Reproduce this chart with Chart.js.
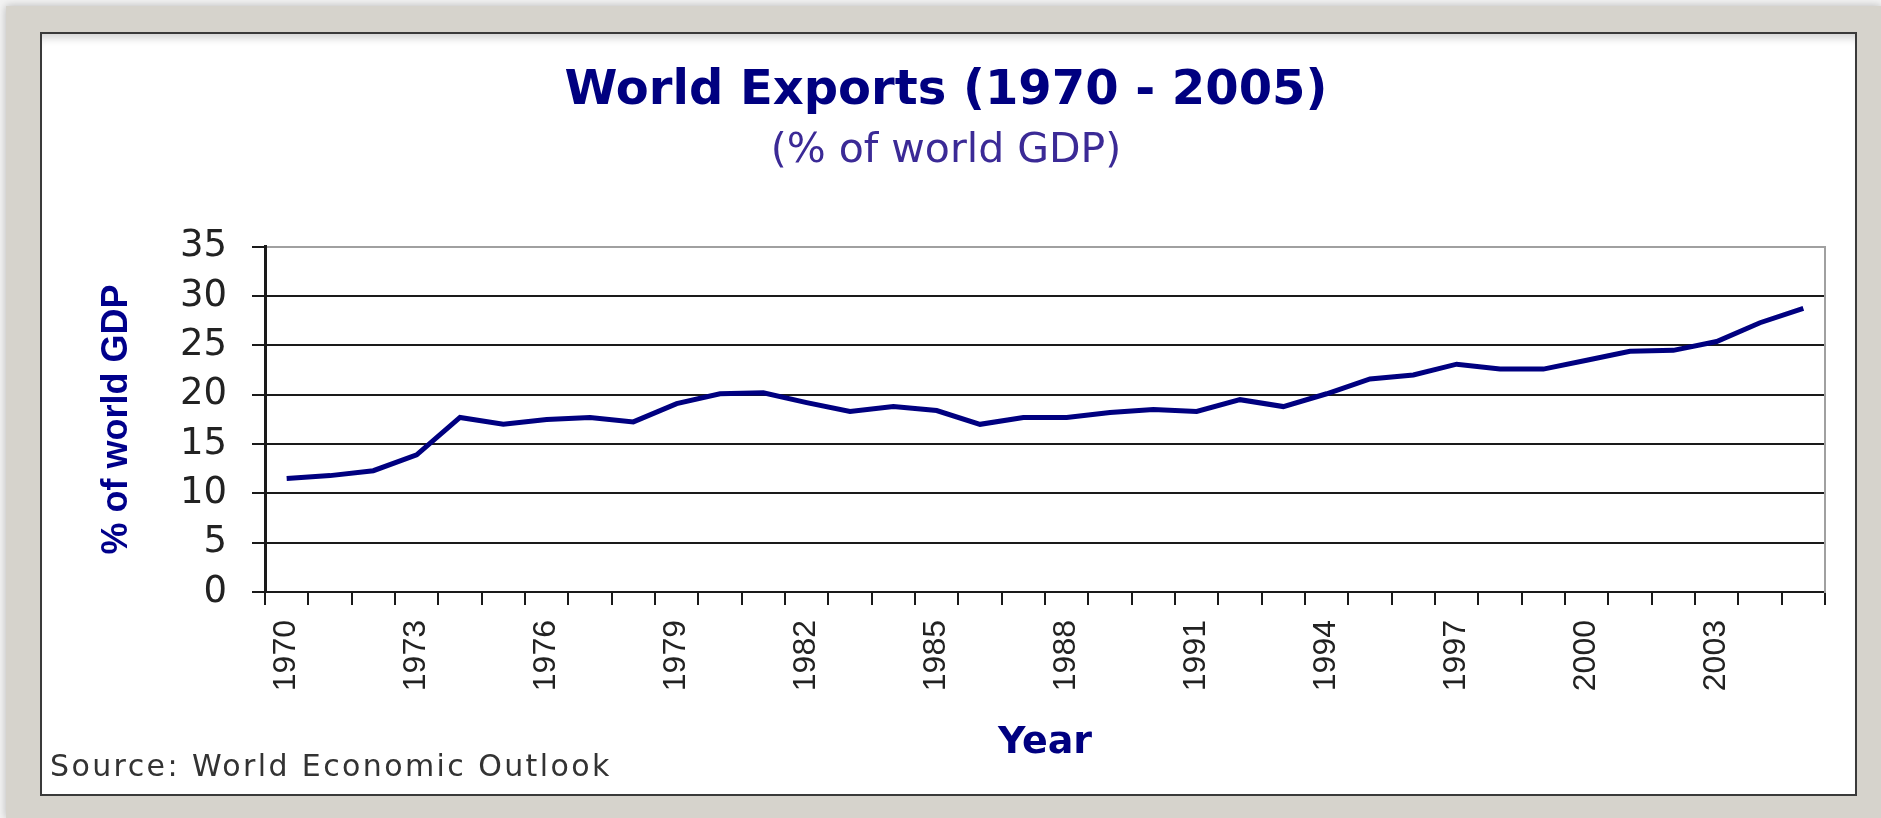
<!DOCTYPE html>
<html>
<head>
<meta charset="utf-8">
<script src="https://cdn.jsdelivr.net/npm/chart.js@4.4.1/dist/chart.umd.min.js"></script>
<style>
  html, body { margin: 0; padding: 0; }
  body { width: 1881px; height: 818px; overflow: hidden; background: #f3f3f3; position: relative; }
  #frame { position: absolute; left: 6px; top: 6px; width: 1875px; height: 812px; background: #d6d3cc;
           box-shadow: 0 0 8px rgba(0,0,0,0.25); }
  #panel { position: absolute; left: 40px; top: 32px; width: 1813px; height: 760px; background: #ffffff;
           border: 2px solid #3a3a3a; box-shadow: inset 0 10px 8px -6px rgba(0,0,0,0.18); }
  #chart { position: absolute; left: 0; top: 0; }
  #src { position: absolute; left: 50px; top: 751px; font-family: 'DejaVu Sans', sans-serif; font-size: 30px;
         line-height: 30px; letter-spacing: 2.4px; color: #333333; white-space: nowrap; }
</style>
</head>
<body>
<div id="frame"></div>
<div id="panel"></div>
<canvas id="chart" width="1881" height="818"></canvas>
<div id="src">Source: World Economic Outlook</div>
<script>
const years = ['1970','1971','1972','1973','1974','1975','1976','1977','1978','1979',
               '1980','1981','1982','1983','1984','1985','1986','1987','1988','1989',
               '1990','1991','1992','1993','1994','1995','1996','1997','1998','1999',
               '2000','2001','2002','2003','2004','2005'];
const exportsPct = [11.5, 11.8, 12.3, 13.9, 17.7, 17.0, 17.5, 17.7, 17.25, 19.1,
                    20.1, 20.2, 19.2, 18.3, 18.8, 18.4, 17.0, 17.7, 17.7, 18.2,
                    18.5, 18.3, 19.5, 18.8, 20.1, 21.6, 22.0, 23.1, 22.6, 22.6,
                    23.5, 24.4, 24.5, 25.4, 27.3, 28.75];
const shownYearLabels = ['1970','1973','1976','1979','1982','1985','1988','1991','1994','1997','2000','2003'];
const yTickValues = [0, 5, 10, 15, 20, 25, 30, 35];

const titleText = 'World Exports (1970 - 2005)';
const subtitleText = '(% of world GDP)';
const xTitleText = 'Year';
const yTitleText = '% of world GDP';

new Chart(document.getElementById('chart').getContext('2d'), {
  type: 'line',
  data: {
    labels: years,
    datasets: [{
      data: exportsPct,
      borderColor: '#000080',
      borderWidth: 5,
      pointRadius: 0,
      tension: 0,
      fill: false
    }]
  },
  options: {
    responsive: false,
    animation: false,
    layout: { padding: { left: 67, right: 56, top: 0, bottom: 52 } },
    plugins: {
      legend: { display: false },
      tooltip: { enabled: false },
      title: {
        display: true, text: titleText, color: '#000080',
        font: { family: 'DejaVu Sans', size: 48, weight: 'bold' },
        padding: { top: 63, bottom: 0 }
      },
      subtitle: {
        display: true, text: subtitleText, color: '#3b2a96',
        font: { family: 'DejaVu Sans', size: 41, weight: 'normal' },
        padding: { top: 6, bottom: 71 }
      }
    },
    scales: {
      x: {
        type: 'category',
        offset: true,
        grid: { display: true, drawOnChartArea: false, drawTicks: true, tickLength: 13, offset: true,
                color: '#1a1a1a', lineWidth: 2 },
        border: { display: true, color: '#1a1a1a', width: 2 },
        ticks: {
          autoSkip: false, minRotation: 90, maxRotation: 90, padding: 15, color: '#222222',
          font: { family: 'Liberation Sans', size: 32 },
          callback: function (v) {
            const l = this.getLabelForValue(v);
            return shownYearLabels.includes(l) ? l : '';
          }
        },
        title: {
          display: true, text: xTitleText, color: '#000080',
          font: { family: 'DejaVu Sans', size: 38, weight: 'bold' },
          padding: { top: 0, bottom: 0 }
        },
        afterFit: function (s) { s.height = 174; }
      },
      y: {
        min: 0, max: 35,
        afterBuildTicks: function (s) { s.ticks = yTickValues.map(v => ({ value: v })); },
        ticks: { padding: 25, color: '#222222', font: { family: 'DejaVu Sans', size: 37 } },
        grid: {
          color: (c) => (c.tick && c.tick.value === 35) ? '#a0a0a0' : '#1a1a1a',
          lineWidth: 2, tickLength: 13, tickColor: '#1a1a1a', drawTicks: true
        },
        border: { display: true, color: '#1a1a1a', width: 3 },
        title: {
          display: true, text: yTitleText, color: '#00008b',
          font: { family: 'Liberation Sans', size: 36, weight: 'bold' },
          padding: { top: 28, bottom: 0 }
        },
        afterFit: function (s) { s.width = 198; }
      },
      y2: {
        position: 'right', display: true,
        grid: { display: false, drawTicks: false },
        ticks: { display: false },
        border: { display: true, color: '#a0a0a0', width: 2 },
        afterFit: function (s) { s.width = 0; }
      }
    }
  }
});
</script>
</body>
</html>
